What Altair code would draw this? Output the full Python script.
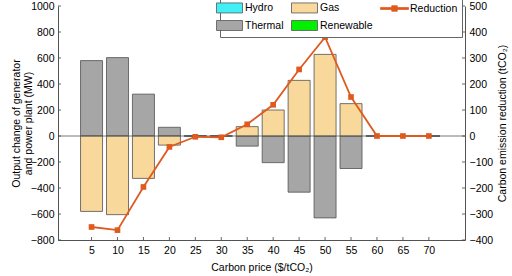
import altair as alt
import pandas as pd

# ---- data ----
prices = [5, 10, 15, 20, 25, 30, 35, 40, 45, 50, 55, 60, 65, 70]
thermal = [580, 603, 322, 67, 2, 2, -78, -205, -432, -630, -250, 0, 0, 0]
gas = [-580, -605, -326, -70, -2, -2, 72, 200, 428, 628, 249, 0, 0, 0]
reduction = [-350, -362, -196, -42, -3, -5, 45, 120, 256, 380, 150, 0, 0, 0]

left_ticks = [-800, -600, -400, -200, 0, 200, 400, 600, 800, 1000]
right_ticks = [-400, -300, -200, -100, 0, 100, 200, 300, 400, 500]

# legend entries (column-major order: Hydro/Thermal, Gas/Renewable, Reduction)
legend_names = ["Hydro", "Thermal", "Gas", "Renewable", "Reduction"]
legend_fill = ["#40F0F6", "#A6A6A6", "#F9D99B", "#00F000", "#DF5A1E"]
legend_stroke = ["#555555", "#555555", "#555555", "#555555", "#DF5A1E"]

C_THERMAL = "#A6A6A6"
C_GAS = "#F9D99B"
C_RED = "#DF5A1E"
EDGE = "#505050"
AX = "#404040"
FONT = "Liberation Sans"
FS = 10.5

W, H = 407, 234

rect_path = "M-2.6,-1L2.6,-1L2.6,1L-2.6,1Z"
line_path = ("M-2.8,-0.18L2.8,-0.18L2.8,0.18L-2.8,0.18Z "
             "M-0.55,-0.55L0.55,-0.55L0.55,0.55L-0.55,0.55Z")
legend_shapes = [rect_path, rect_path, rect_path, rect_path, line_path]

bars_df = pd.DataFrame({"price": prices, "thermal": thermal, "gas": gas})
red_df = pd.DataFrame({"price": prices, "reduction": reduction})
lt_df = pd.DataFrame({"tv": left_ticks})
rt_df = pd.DataFrame({"tv": right_ticks})
bt_df = pd.DataFrame({"price": prices})
leg_df = pd.DataFrame({"cat": legend_names, "price": [-100] * 5, "tv": [0] * 5})

x_scale = alt.Scale(domain=[-0.5, 76], nice=False, zero=False)
x_axis = alt.Axis(values=prices, title="Carbon price ($/tCO₂)", ticks=False,
                  labelPadding=5, titleX=W / 2, titleY=27, titleBaseline="middle",
                  titleAlign="center", grid=False)

yl_scale = alt.Scale(domain=[-800, 1000], nice=False, zero=False)
yl_axis = alt.Axis(values=left_ticks, orient="left", format="d",
                   title=["Output change of generator", "and power plant (MW)"],
                   ticks=False, labelPadding=4, grid=False,
                   titleX=-42, titleY=H / 2, titleAngle=270, titleBaseline="middle",
                   titleAlign="center", titleLineHeight=12.5)

yr_scale = alt.Scale(domain=[-400, 500], nice=False, zero=False)
yr_axis = alt.Axis(values=right_ticks, orient="right", format="d",
                   title="Carbon emission reduction (tCO₂)",
                   ticks=False, labelPadding=4, grid=False,
                   titleX=37, titleY=H / 2, titleAngle=270, titleBaseline="middle",
                   titleAlign="center")


def X(field="price:Q"):
    return alt.X(field, scale=x_scale, axis=x_axis)


def YL(field):
    return alt.Y(field, scale=yl_scale, axis=yl_axis)


def YR(field):
    return alt.Y(field, scale=yr_scale, axis=yr_axis)


thermal_bars = alt.Chart(bars_df).mark_bar(
    size=22, fill=C_THERMAL, stroke=EDGE, strokeWidth=0.8
).encode(x=X(), y=YL("thermal:Q"))

gas_bars = alt.Chart(bars_df).mark_bar(
    size=22, fill=C_GAS, stroke=EDGE, strokeWidth=0.8
).encode(x=X(), y=YL("gas:Q"))

zero_rule = alt.Chart(lt_df).transform_filter("datum.tv == 0").mark_rule(
    color="#555555", strokeWidth=0.8
).encode(y=YL("tv:Q"))

left_tick_marks = alt.Chart(lt_df).mark_rule(color=AX, strokeWidth=0.8).encode(
    y=YL("tv:Q"), x=alt.value(0), x2=alt.value(3)
)

bottom_tick_marks = alt.Chart(bt_df).mark_rule(color=AX, strokeWidth=0.8).encode(
    x=X(), y=alt.value(H - 3), y2=alt.value(H)
)

leg = alt.Legend(orient="none", legendX=162, legendY=-8, columns=3, title=None,
                 symbolSize=100, labelOffset=10, columnPadding=5, rowPadding=3,
                 padding=4, strokeColor="#666666", fillColor="white",
                 labelFont=FONT, labelFontSize=FS, labelColor="black",
                 symbolStrokeWidth=0.8, symbolOpacity=1)

legend_layer = alt.Chart(leg_df).mark_point(filled=True, opacity=1, clip=True).encode(
    x=X(), y=YL("tv:Q"),
    fill=alt.Fill("cat:N", scale=alt.Scale(domain=legend_names, range=legend_fill), legend=leg),
    stroke=alt.Stroke("cat:N", scale=alt.Scale(domain=legend_names, range=legend_stroke), legend=leg),
    shape=alt.Shape("cat:N", scale=alt.Scale(domain=legend_names, range=legend_shapes), legend=leg),
)

left = alt.layer(thermal_bars, gas_bars, zero_rule, left_tick_marks, bottom_tick_marks, legend_layer)

red_line = alt.Chart(red_df).mark_line(color=C_RED, strokeWidth=1.8).encode(
    x=X(), y=YR("reduction:Q")
)
red_pts = alt.Chart(red_df).mark_point(
    shape="square", filled=True, color=C_RED, size=32, opacity=1
).encode(x=X(), y=YR("reduction:Q"))

right_tick_marks = alt.Chart(rt_df).mark_rule(color=AX, strokeWidth=0.8).encode(
    y=YR("tv:Q"), x=alt.value(W - 3), x2=alt.value(W)
)

right = alt.layer(right_tick_marks, red_line, red_pts)

chart = alt.layer(left, right).resolve_scale(y="independent").properties(
    width=W, height=H,
    autosize=alt.AutoSizeParams(type="none"),
    padding={"left": 58, "top": 6, "right": 47, "bottom": 36},
).configure_view(stroke=None).configure_axis(
    labelFont=FONT, labelFontSize=FS, labelColor="black",
    titleFont=FONT, titleFontSize=FS, titleFontWeight="normal", titleColor="black",
    domainColor=AX, domainWidth=0.9,
)

chart.save("out.html", embed_options={"renderer": "svg", "actions": False})
